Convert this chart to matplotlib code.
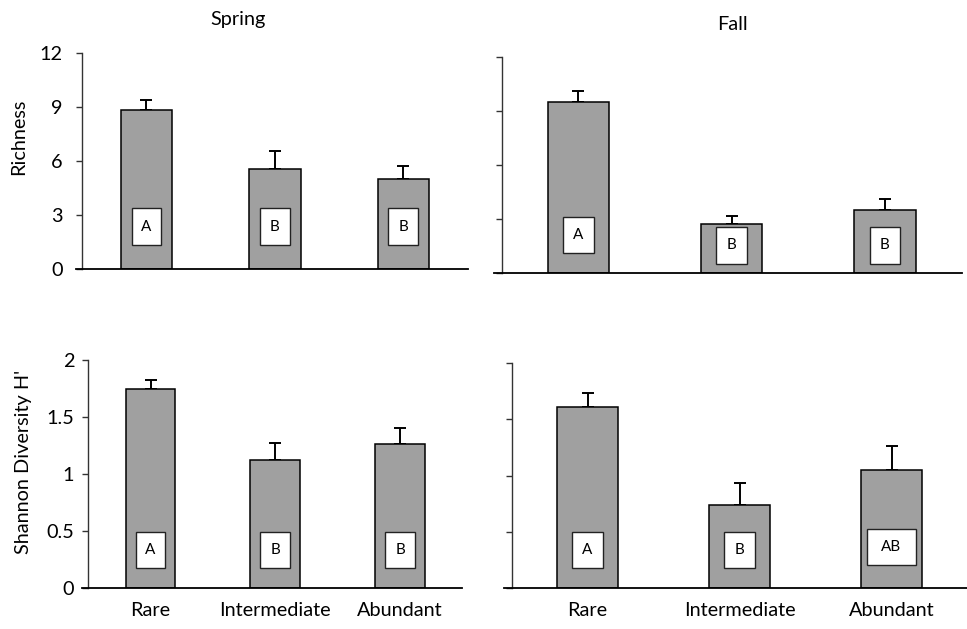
import matplotlib
matplotlib.use('Agg')
import matplotlib.pyplot as plt
from matplotlib.patches import Rectangle

plt.rcParams['font.family'] = ['Lato', 'DejaVu Sans']

groups = ['Rare', 'Intermediate', 'Abundant']

spring_rich = [8.83, 5.56, 5.0]
spring_rich_se = [0.56, 1.0, 0.72]
fall_rich = [9.5, 2.72, 3.5]
fall_rich_se = [0.6, 0.45, 0.61]

spring_h = [1.745, 1.12, 1.26]
spring_h_se = [0.08, 0.15, 0.14]
fall_h = [1.61, 0.74, 1.05]
fall_h_se = [0.12, 0.19, 0.21]

spring_rich_letters = ['A', 'B', 'B']
fall_rich_letters = ['A', 'B', 'B']
spring_h_letters = ['A', 'B', 'B']
fall_h_letters = ['A', 'B', 'AB']

W, H = 967, 629
FS = 14.3
fig = plt.figure(figsize=(W / 100, H / 100), dpi=100)


def px_axes(x0, x1, ytop, ybot):
    return fig.add_axes([x0 / W, 1 - ybot / H, (x1 - x0) / W, (ybot - ytop) / H])


def panel(ax, vals, se, letters, ymax, ticks, boxes, show_y, show_x, ypad):
    x = range(len(vals))
    ax.bar(x, vals, width=0.4, color='#a0a0a0', edgecolor='black', linewidth=1.1, zorder=2)
    ax.errorbar(x, vals, yerr=[[0] * len(se), se], fmt='none', ecolor='black',
                elinewidth=1.4, capsize=4, capthick=1.4, zorder=1)
    # letter boxes: (width, height, y-centre) per bar
    for i, (lab, (bw, bh, yc)) in enumerate(zip(letters, boxes)):
        ax.add_patch(Rectangle((i - bw / 2, yc - bh / 2), bw, bh, facecolor='white',
                               edgecolor='#222222', linewidth=1.0, zorder=3))
        ax.text(i, yc, lab, ha='center', va='center', fontsize=11, zorder=4)
    ax.set_xlim(-0.55, 2.5)
    ax.set_ylim(0, ymax)
    ax.set_yticks(ticks)
    for s in ['top', 'right']:
        ax.spines[s].set_visible(False)
    ax.spines['left'].set_position(('data', -0.5))
    ax.spines['left'].set_color('#333333')
    ax.spines['left'].set_linewidth(1.0)
    ax.spines['bottom'].set_linewidth(1.3)
    ax.tick_params(axis='y', direction='out', length=4, width=1.0, color='#333333',
                   labelsize=FS, pad=ypad, labelleft=show_y)
    ax.set_xticks(list(x))
    if show_x:
        ax.set_xticklabels(groups, fontsize=FS)
    else:
        ax.set_xticklabels([])
    ax.tick_params(axis='x', length=0, pad=10)


ax1 = px_axes(75.8, 467.7, 53, 269)
panel(ax1, spring_rich, spring_rich_se, spring_rich_letters, 12, [0, 3, 6, 9, 12],
      [(0.233, 2.06, 2.36)] * 3, True, False, 10)

ax2 = px_axes(494.2, 961.6, 57, 273)
panel(ax2, fall_rich, fall_rich_se, fall_rich_letters, 12, [0, 3, 6, 9, 12],
      [(0.2, 2.0, 2.11), (0.2, 2.05, 1.53), (0.2, 2.05, 1.53)], False, False, 10)

ax3 = px_axes(81.9, 462.4, 360, 588)
panel(ax3, spring_h, spring_h_se, spring_h_letters, 2, [0, 0.5, 1, 1.5, 2],
      [(0.24, 0.316, 0.333)] * 3, True, True, 6)
ax3.set_yticklabels(['0', '0.5', '1', '1.5', '2'])

ax4 = px_axes(503.9, 967.5, 363, 588)
panel(ax4, fall_h, fall_h_se, fall_h_letters, 2, [0, 0.5, 1, 1.5, 2],
      [(0.2, 0.32, 0.338), (0.2, 0.32, 0.338), (0.32, 0.32, 0.364)], False, True, 6)

fig.text(238 / W, 1 - 19 / H, 'Spring', ha='center', va='center', fontsize=FS)
fig.text(732 / W, 1 - 25 / H, 'Fall', ha='center', va='center', fontsize=FS)
fig.text(19 / W, 1 - 137 / H, 'Richness', ha='center', va='center', rotation=90, fontsize=FS)
fig.text(24 / W, 1 - 462 / H, "Shannon Diversity H'", ha='center', va='center',
         rotation=90, fontsize=FS)

fig.savefig('out.png', dpi=100)
